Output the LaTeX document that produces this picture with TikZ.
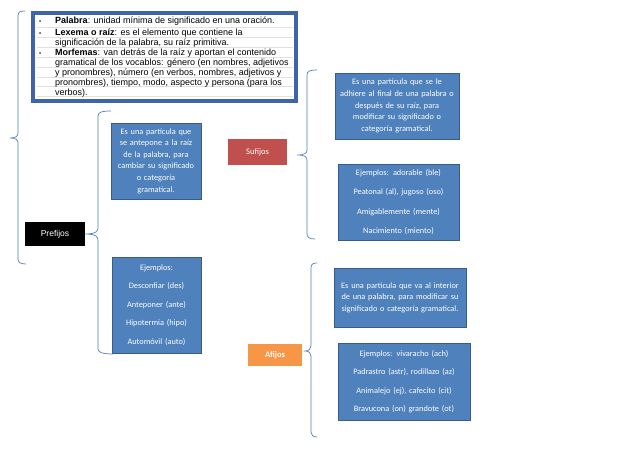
\documentclass[tikz,border=0pt]{standalone}
\usepackage{fontspec}
\setmainfont{Carlito}
\newfontfamily\arialfont{Liberation Sans}
\usetikzlibrary{positioning}

\definecolor{boxblue}{RGB}{79,129,189}
\definecolor{boxedge}{RGB}{56,93,138}
\definecolor{bracecol}{RGB}{84,125,180}
\definecolor{sufred}{RGB}{192,80,77}
\definecolor{afiorange}{RGB}{247,150,70}
\definecolor{framecol}{RGB}{62,101,170}
\newcommand{\bul}{{\fontsize{6}{6}\selectfont\textbullet}}

\begin{document}
\begin{tikzpicture}[
	x=1pt, y=-1pt,
	bluebox/.style={draw=boxedge, fill=boxblue, line width=0.8pt, text=white, align=center, inner sep=2pt, font=\fontsize{8.3}{11.6}\selectfont},
	ejbox/.style={bluebox, font=\fontsize{8.3}{18.5}\selectfont},
	labelbox/.style={text=white, align=center, inner sep=0pt, font=\fontsize{8.5}{10}\selectfont},
	brace/.style={draw=bracecol, line width=0.7pt}
	]
	
	\useasboundingbox (0,0) rectangle (638,452);
	
	% Cuadro de definiciones
	\draw[framecol, line width=4pt, fill=white] (33,13) rectangle (296,101);
	\foreach \y in {27,37,47,57,67,77,86,96}
		\draw[black!12, line width=0.4pt] (37,\y) -- (293,\y);
	\node[anchor=north west, inner sep=0pt, font=\arialfont\fontsize{9}{10}\selectfont] (defs) at (39,16) {%
		\begin{tabular}{@{}p{16pt}@{}p{236pt}@{}}
			\bul & \textbf{Palabra}: unidad mínima de significado en una oración.\\[2pt]
			\bul & \textbf{Lexema o raíz}: es el elemento que contiene la\\
			     & significación de la palabra, su raíz primitiva.\\
			\bul & \textbf{Morfemas}: van detrás de la raíz y aportan el contenido\\
			     & gramatical de los vocablos: género (en nombres, adjetivos\\
			     & y pronombres), número (en verbos, nombres, adjetivos y\\
			     & pronombres), tiempo, modo, aspecto y persona (para los\\
			     & verbos).
		\end{tabular}};
	
	% Prefijos
	\node[labelbox, fill=black, minimum width=60pt, minimum height=24pt, font=\arialfont\fontsize{8.5}{10}\selectfont] (prefijos) at (55,234) {Prefijos};
	\node[bluebox, text width=86pt, minimum height=76pt] (predef) at (156,161) {Es una partícula que\\se antepone a la raíz\\de la palabra, para\\cambiar su significado\\o categoría\\gramatical.};
	\node[ejbox, text width=85pt, minimum height=96pt] (preej) at (156.5,305) {Ejemplos:\\Desconfiar (des)\\Anteponer (ante)\\Hipotermia (hipo)\\Automóvil (auto)};
	
	% Sufijos
	\node[labelbox, fill=sufred, minimum width=59pt, minimum height=26pt] (sufijos) at (257.5,152) {Sufijos};
	\node[bluebox, text width=120pt, minimum height=66pt] (sufdef) at (397,106) {Es una partícula que se le\\adhiere al final de una palabra o\\después de su raíz, para\\modificar su significado o\\categoría gramatical.};
	\node[ejbox, font=\fontsize{8.3}{19.3}\selectfont, text width=117pt, minimum height=76pt] (sufej) at (398.5,202) {Ejemplos: adorable (ble)\\Peatonal (al), jugoso (oso)\\Amigablemente (mente)\\Nacimiento (miento)};
	
	% Afijos
	\node[labelbox, fill=afiorange, minimum width=54pt, minimum height=22pt, font=\bfseries\fontsize{8.5}{10}\selectfont] (afijos) at (275,355) {Afijos};
	\node[bluebox, text width=128pt, minimum height=59pt] (afidef) at (400,297.5) {Es una partícula que va al interior\\de una palabra, para modificar su\\significado o categoría gramatical.\\[6pt]};
	\node[ejbox, text width=128pt, minimum height=77pt] (afiej) at (404,381.5) {Ejemplos: vivaracho (ach)\\Padrastro (astr), rodillazo (az)\\Animalejo (ej), cafecito (cit)\\Bravucona (on) grandote (ot)};
	
	% Llaves
	\draw[brace] (25,11) .. controls (20,11) and (18,12) .. (18,16) -- (18,133)
		.. controls (18,136) and (16,138) .. (10,138)
		.. controls (16,138) and (18,140) .. (18,143) -- (18,259)
		.. controls (18,262) and (20,264) .. (26,264);
	\draw[brace] (111,111) .. controls (102,111) and (98,112) .. (98,116) -- (98,228)
		.. controls (98,231) and (96,234) .. (prefijos.east)
		.. controls (96,234) and (98,237) .. (98,240) -- (98,349)
		.. controls (98,352) and (102,354) .. (113,354);
	\draw[brace] (317,70) .. controls (310,70) and (307,71) .. (307,75) -- (307,150)
		.. controls (307,153) and (305,155) .. (297,155)
		.. controls (305,155) and (307,157) .. (307,160) -- (307,234)
		.. controls (307,237) and (309,239) .. (315,239);
	\draw[brace] (317,263) .. controls (313,263) and (311,264) .. (311,268) -- (311,346)
		.. controls (311,349) and (309,351) .. (305,351)
		.. controls (309,351) and (311,353) .. (311,356) -- (311,432)
		.. controls (311,435) and (313,437) .. (317,437);
	
\end{tikzpicture}
\end{document}
